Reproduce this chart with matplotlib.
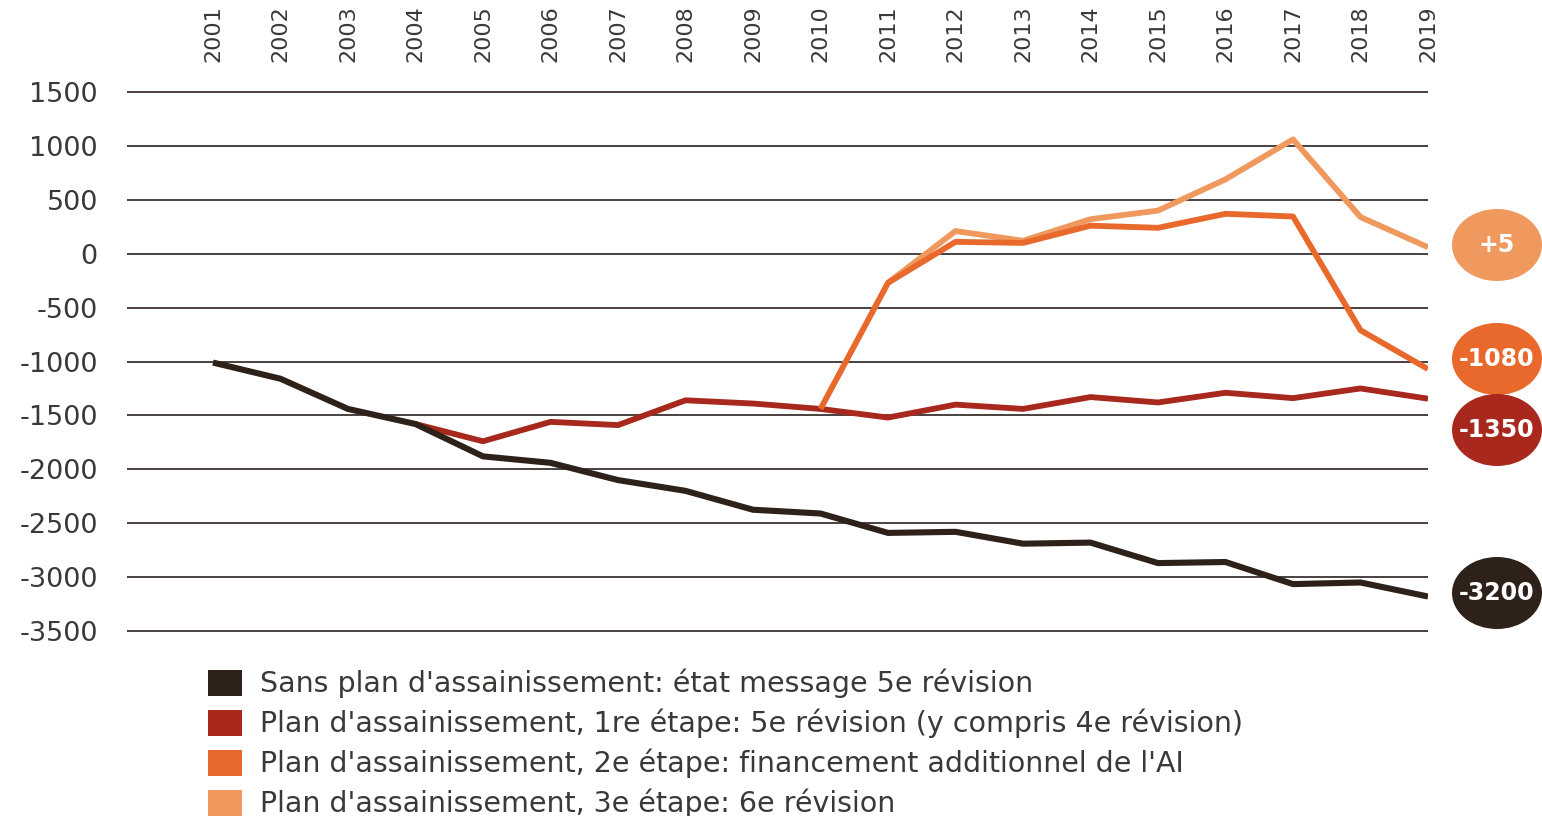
import numpy as np
import matplotlib
matplotlib.use("Agg")
import matplotlib.pyplot as plt
from matplotlib.patches import Ellipse, Rectangle

years = list(range(2001, 2020))
nan = np.nan
sans_plan = [-1010, -1160, -1440, -1580, -1880, -1940, -2100, -2200, -2375, -2410,
             -2590, -2580, -2690, -2680, -2870, -2860, -3065, -3050, -3180]
etape1 = [nan, nan, nan, -1580, -1740, -1560, -1590, -1360, -1390, -1440,
          -1520, -1400, -1440, -1330, -1380, -1290, -1340, -1250, -1345]
etape2 = [nan] * 9 + [-1440, -270, 110, 100, 260, 240, 370, 345, -710, -1070]
etape3 = [nan] * 10 + [-270, 210, 120, 320, 400, 690, 1060, 340, 60]
end_labels = ["+5", "-1080", "-1350", "-3200"]
yticks = [1500, 1000, 500, 0, -500, -1000, -1500, -2000, -2500, -3000, -3500]
legend_labels = [
    "Sans plan d'assainissement: état message 5e révision",
    "Plan d'assainissement, 1re étape: 5e révision (y compris 4e révision)",
    "Plan d'assainissement, 2e étape: financement additionnel de l'AI",
    "Plan d'assainissement, 3e étape: 6e révision",
]

C_BLACK, C_RED, C_ORANGE, C_LIGHT = "#2e2119", "#a8281e", "#e8692b", "#f0995e"
GRID = "#3a3330"
TXT = "#3c3836"

W, H = 1542, 816
fig = plt.figure(figsize=(W / 100, H / 100), dpi=100)
# axes box in pixels: gridlines from x=127 to 1428, 1500 at y=92, -3500 at y=631
pad = 30
ppu = (631 - 92) / 5000
top_px, bot_px = 92 - pad * ppu, 631 + pad * ppu
ax = fig.add_axes([127 / W, 1 - bot_px / H, (1428 - 127) / W, (bot_px - top_px) / H])
x0 = 2001 - (213 - 127) / ((1428 - 213) / 18)
ax.set_xlim(x0, 2019)
ax.set_ylim(-3500 - pad, 1500 + pad)

for v in yticks:
    ax.axhline(v, color=GRID, lw=1.3, zorder=1)

ax.plot(years, etape1, color=C_RED, lw=4.2, zorder=2, solid_capstyle="butt")
ax.plot(years, sans_plan, color=C_BLACK, lw=4.4, zorder=3, solid_capstyle="butt")
ax.plot(years, etape3, color=C_LIGHT, lw=4.2, zorder=4, solid_capstyle="butt")
ax.plot(years, etape2, color=C_ORANGE, lw=4.2, zorder=5, solid_capstyle="butt")

for s in ax.spines.values():
    s.set_visible(False)
ax.set_yticks(yticks)
ax.set_yticklabels([str(v) for v in yticks], fontsize=19.5, color=TXT)
ax.tick_params(axis="y", length=0, pad=21)
ax.set_xticks(years)
ax.xaxis.tick_top()
ax.set_xticklabels([str(y) for y in years], rotation=90, fontsize=16, color=TXT)
ax.tick_params(axis="x", length=0, pad=19)

# end-value bubbles
bub_y = [245, 359, 430, 593]
bub_c = [C_LIGHT, C_ORANGE, C_RED, C_BLACK]
for lab, yp, c in zip(end_labels, bub_y, bub_c):
    fig.add_artist(Ellipse((1497 / W, 1 - yp / H), 90 / W, 72 / H, transform=fig.transFigure,
                           facecolor=c, edgecolor="none"))
    fig.text(1497 / W, 1 - yp / H, lab, color="white", fontsize=17, fontweight="bold",
             ha="center", va="center")

# legend
for i, (lab, c) in enumerate(zip(legend_labels, [C_BLACK, C_RED, C_ORANGE, C_LIGHT])):
    yc = 683 + 40 * i
    fig.add_artist(Rectangle((208 / W, 1 - (yc + 13) / H), 34 / W, 26 / H,
                             transform=fig.transFigure, facecolor=c, edgecolor="none"))
    fig.text(260 / W, 1 - yc / H, lab, color=TXT, fontsize=20.5, ha="left", va="center")

fig.savefig("out.png", dpi=100)
